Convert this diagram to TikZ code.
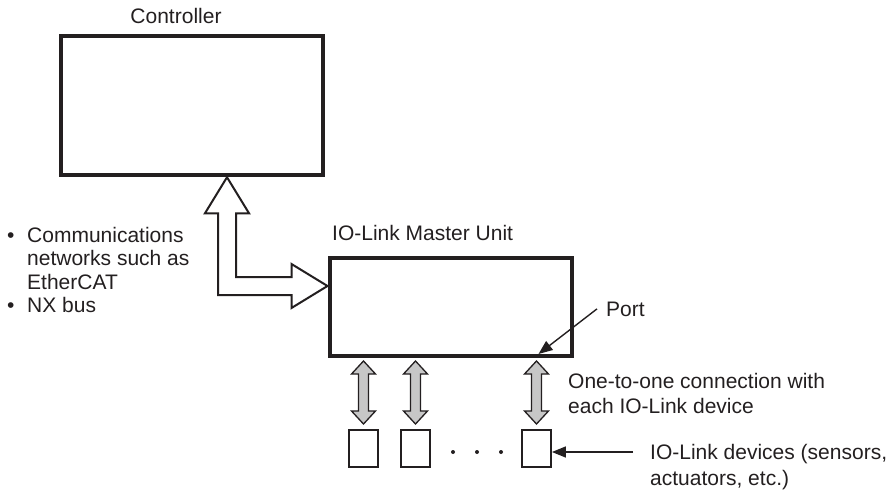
\documentclass[tikz,border=0pt]{standalone}
\usepackage{fontspec}
\setmainfont{Liberation Sans}
\usepackage{tikz}
\usetikzlibrary{arrows.meta,positioning,calc}
\definecolor{InkBlack}{HTML}{231F20}
\colorlet{LinkGray}{black!22}

\begin{document}
\begin{tikzpicture}[
  x=1pt, y=-1pt,
  every node/.style={font=\fontsize{21}{25}\selectfont, text=InkBlack, inner sep=0pt},
  unitbox/.style={rectangle, draw=InkBlack, line width=4pt, outer sep=0pt},
  device/.style={rectangle, draw=InkBlack, line width=1.8pt, minimum width=29pt, minimum height=37pt},
  link/.style={draw=InkBlack, line width=1.3pt, fill=LinkGray},
  busarrow/.style={draw=InkBlack, line width=2pt, fill=white},
  pointer/.style={draw=InkBlack, line width=1.4pt, -{Triangle[length=14pt,width=11pt]}}
]
\useasboundingbox (0,0) rectangle (891,492);

% Controller and master unit
\node[unitbox, minimum width=262pt, minimum height=139.5pt] (ctrl) at (192,105.5) {};
\node[anchor=base] (ctrllbl) at (176,24) {Controller};
\node[unitbox, minimum width=242pt, minimum height=98pt] (master) at (450.5,307) {};
\node[anchor=base west] (masterlbl) at (332,240) {IO-Link Master Unit};

% Bus between controller and master
\coordinate (cup) at ($(ctrl.south)+(35,2)$);
\coordinate (cin) at ($(master.west)+(-2,-21)$);
\draw[busarrow] (cup) -- ++(22,36) -- ++(-13,0) -- ($(cup |- cin)+(9,-9)$)
  -- ($(cin)+(-36,-9)$) -- ++(0,-13) -- (cin) -- ++(-36,22) -- ++(0,-13)
  -- ($(cup |- cin)+(-9,9)$) -- ($(cup)+(-9,36)$) -- ++(-13,0) -- cycle;
\node[anchor=north west, align=left, font=\fontsize{21}{23.5}\selectfont] (nets) at (7,227)
  {\makebox[20pt][l]{•}Communications\\\hspace*{20pt}networks such as\\\hspace*{20pt}EtherCAT\\\makebox[20pt][l]{•}NX bus};

% IO-Link devices, each with its own link
\foreach \name/\x in {dev1/363.5, dev2/415.5, dev3/536.5} {
  \node[device] (\name) at (\x,448.5) {};
  \draw[link] ($(\name.north |- master.south)+(0,5)$) -- ++(12,13) -- ++(-7,0) -- ++(0,37)
    -- ++(7,0) -- ++(-12,13) -- ++(-12,-13) -- ++(7,0) -- ++(0,-37) -- ++(-7,0) -- cycle;
}
\foreach \x in {453,477,501} {
  \fill[InkBlack] (\x,452) circle (2pt);
}

% Labels
\node[anchor=base west] (port) at (606,316) {Port};
\coordinate (porttip) at ($(master.south east)+(-33,-2)$);
\draw[pointer] ([xshift=-9pt]port.west) -- (porttip);
\node[anchor=north west, align=left] (onetoone) at (568,373) {One-to-one connection with\\each IO-Link device};
\node[anchor=north west, align=left, font=\fontsize{21}{26}\selectfont] (devlbl) at (650,444) {IO-Link devices (sensors,\\actuators, etc.)};
\coordinate (devtail) at (633,452);
\draw[pointer] (devtail) -- (dev3.east |- devtail);

\end{tikzpicture}
\end{document}
